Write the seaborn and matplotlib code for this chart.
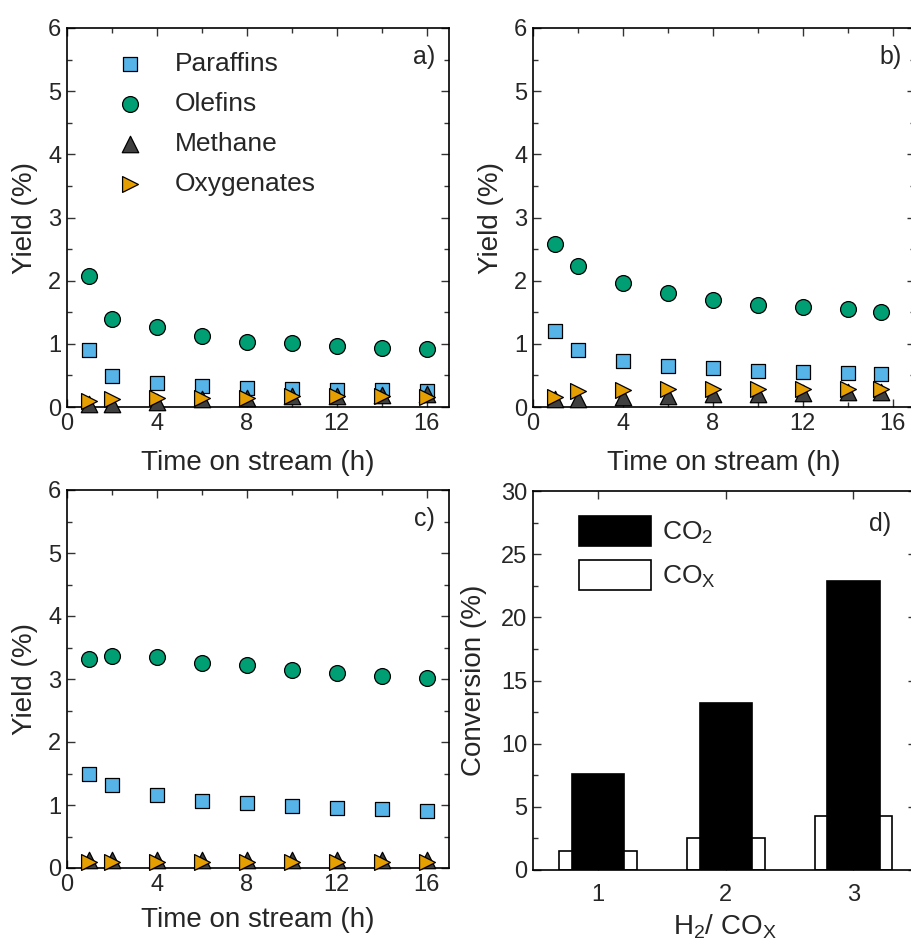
import matplotlib
matplotlib.use("Agg")
import matplotlib.pyplot as plt
import seaborn as sns
import pandas as pd
from matplotlib.ticker import MultipleLocator

sns.set_style("ticks")
plt.rcParams['font.family'] = ['Liberation Sans', 'DejaVu Sans']
plt.rcParams['mathtext.fontset'] = 'custom'
plt.rcParams['mathtext.rm'] = 'Liberation Sans'
plt.rcParams['mathtext.it'] = 'Liberation Sans'

# ---- data ----
time_ac = [1, 2, 4, 6, 8, 10, 12, 14, 16]
time_b = [1, 2, 4, 6, 8, 10, 12, 14, 15.5]

a_paraffins = [0.90, 0.49, 0.375, 0.33, 0.30, 0.29, 0.27, 0.27, 0.26]
a_olefins = [2.08, 1.39, 1.27, 1.13, 1.03, 1.01, 0.965, 0.94, 0.92]
a_methane = [0.04, 0.05, 0.08, 0.12, 0.15, 0.18, 0.18, 0.19, 0.20]
a_oxygenates = [0.10, 0.12, 0.14, 0.15, 0.15, 0.18, 0.17, 0.17, 0.16]

b_paraffins = [1.21, 0.90, 0.73, 0.645, 0.61, 0.57, 0.55, 0.54, 0.52]
b_olefins = [2.58, 2.24, 1.97, 1.80, 1.69, 1.62, 1.58, 1.55, 1.50]
b_methane = [0.12, 0.13, 0.16, 0.18, 0.20, 0.21, 0.22, 0.23, 0.23]
b_oxygenates = [0.16, 0.25, 0.27, 0.285, 0.29, 0.28, 0.28, 0.29, 0.28]

c_paraffins = [1.49, 1.31, 1.16, 1.06, 1.03, 0.99, 0.95, 0.93, 0.91]
c_olefins = [3.32, 3.37, 3.35, 3.26, 3.22, 3.15, 3.10, 3.05, 3.02]
c_methane = [0.12, 0.12, 0.12, 0.12, 0.12, 0.12, 0.12, 0.12, 0.12]
c_oxygenates = [0.09, 0.09, 0.09, 0.09, 0.09, 0.10, 0.09, 0.09, 0.09]

h2_cox = [1, 2, 3]
conv_co2 = [7.6, 13.2, 22.9]
conv_cox = [1.5, 2.55, 4.3]

series_names = ["Paraffins", "Olefins", "Methane", "Oxygenates"]
colors = {"Paraffins": "#56B4E9", "Olefins": "#009E73",
          "Methane": "#3f3f3f", "Oxygenates": "#E69F00"}
markers = {"Paraffins": "s", "Olefins": "o", "Methane": "^", "Oxygenates": ">"}
sizes = {"Paraffins": 95, "Olefins": 130, "Methane": 140, "Oxygenates": 130}

TFS = 17   # tick labels
LFS = 20   # axis labels
GFS = 19   # legend
W, H = 911, 942
fig = plt.figure(figsize=(W / 100, H / 100), dpi=100)

def rect(l, t, r, b):
    return [l / W, 1 - b / H, (r - l) / W, (b - t) / H]

ax_a = fig.add_axes(rect(67, 28, 449, 407))
ax_b = fig.add_axes(rect(533, 28, 915, 407))
ax_c = fig.add_axes(rect(67, 490, 449, 868))
ax_d = fig.add_axes(rect(533, 491, 916, 870))

def style_axes(ax):
    for s in ax.spines.values():
        s.set_linewidth(1.2)
        s.set_color('black')
    ax.tick_params(which='both', direction='in', top=True, right=True,
                   labelsize=TFS, width=1.0, color='#333333', pad=4)
    ax.tick_params(which='major', length=6)
    ax.tick_params(which='minor', length=3.5)

def yield_panel(ax, t, vals, label):
    for name, v in zip(series_names, vals):
        df = pd.DataFrame({"t": t, "y": v})
        sns.scatterplot(data=df, x="t", y="y", ax=ax, marker=markers[name],
                        color=colors[name], s=sizes[name], edgecolor='black',
                        linewidth=0.9, label=name, clip_on=False, zorder=3)
    ax.set_xlim(0, 17)
    ax.set_ylim(0, 6)
    ax.xaxis.set_major_locator(MultipleLocator(4))
    ax.xaxis.set_minor_locator(MultipleLocator(2))
    ax.yaxis.set_major_locator(MultipleLocator(1))
    ax.yaxis.set_minor_locator(MultipleLocator(0.5))
    ax.set_xlabel("Time on stream (h)", fontsize=LFS, labelpad=11)
    ax.set_ylabel("Yield (%)", fontsize=LFS, labelpad=7)
    style_axes(ax)
    ax.text(0.935, 0.955, label, transform=ax.transAxes, fontsize=TFS + 1,
            ha='center', va='top')

yield_panel(ax_a, time_ac, [a_paraffins, a_olefins, a_methane, a_oxygenates], "a)")
yield_panel(ax_b, time_b, [b_paraffins, b_olefins, b_methane, b_oxygenates], "b)")
yield_panel(ax_c, time_ac, [c_paraffins, c_olefins, c_methane, c_oxygenates], "c)")
ax_c.xaxis.labelpad = 8

ax_a.legend(loc='upper left', bbox_to_anchor=(0.067, 0.965), frameon=False,
            fontsize=GFS, labelspacing=0.61, handletextpad=0.7,
            borderaxespad=0.0)
ax_b.get_legend().remove()
ax_c.get_legend().remove()

# ---- panel d ----
df_d = pd.DataFrame({"r": h2_cox, "co2": conv_co2, "cox": conv_cox})
sns.barplot(data=df_d, x="r", y="cox", native_scale=True, width=0.61,
            color='white', edgecolor='black', linewidth=1.2, errorbar=None,
            ax=ax_d, label="CO$_\\mathrm{X}$", saturation=1)
sns.barplot(data=df_d, x="r", y="co2", native_scale=True, width=0.41,
            color='black', edgecolor='black', linewidth=1.2, errorbar=None,
            ax=ax_d, label="CO$_2$", saturation=1)
ax_d.set_xlim(0.49, 3.49)
ax_d.set_ylim(0, 30)
ax_d.set_xticks(h2_cox)
ax_d.set_xticklabels([str(v) for v in h2_cox])
ax_d.yaxis.set_major_locator(MultipleLocator(5))
ax_d.yaxis.set_minor_locator(MultipleLocator(2.5))
ax_d.set_xlabel("H$_2$/ CO$_\\mathrm{X}$", fontsize=LFS, labelpad=5)
ax_d.set_ylabel("Conversion (%)", fontsize=LFS, labelpad=10.5)
style_axes(ax_d)
ax_d.tick_params(axis='x', which='major', pad=10)
ax_d.tick_params(axis='x', which='minor', bottom=False, top=False)
ax_d.text(0.905, 0.945, "d)", transform=ax_d.transAxes, fontsize=TFS + 1,
          ha='center', va='top')
h, l = ax_d.get_legend_handles_labels()
ax_d.legend(h[::-1], l[::-1], loc='upper left', bbox_to_anchor=(0.093, 0.962),
            frameon=False, fontsize=GFS, handlelength=2.73, handleheight=1.36,
            labelspacing=0.53, handletextpad=0.42, borderaxespad=0.0)

fig.savefig("out.png", dpi=100)
